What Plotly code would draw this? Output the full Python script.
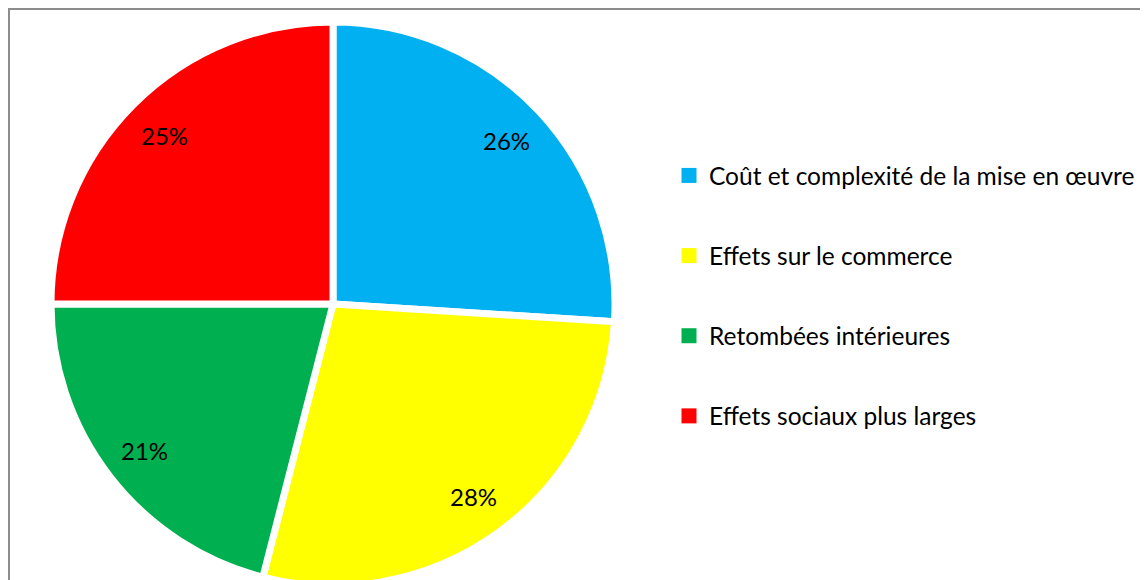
import math
import plotly.graph_objects as go

categories = ["Coût et complexité de la mise en œuvre", "Effets sur le commerce",
              "Retombées intérieures", "Effets sociaux plus larges"]
values = [26, 28, 21, 25]
colors = ["#00B0F0", "#FFFF00", "#00B050", "#FF0000"]

W, H = 1148, 580
FONT = "Lato"

# pie geometry (pixels in figure coordinates, y from top)
CX, CY, R = 325, 296, 282
dom_x = [(CX - R) / W, (CX + R) / W]
dom_y = [max(0, (H - CY - R) / H), (H - CY + R) / H]

fig = go.Figure()
fig.add_trace(go.Pie(
    labels=categories, values=values, sort=False, direction="clockwise", rotation=0,
    marker=dict(colors=colors, line=dict(color="white", width=7)),
    textinfo="none",
    domain=dict(x=dom_x, y=[(H - CY - R) / H, (H - CY + R) / H]),
    showlegend=False, hoverinfo="label+percent",
))
for i, (c, col) in enumerate(zip(categories, colors)):
    fig.add_trace(go.Scatter(
        x=[None], y=[None], mode="markers", name=c, legendgroup=f"g{i}",
        marker=dict(symbol="square", size=15, color=col), showlegend=True,
    ))

# percentage labels placed along each slice's mid-angle, derived from the data
total = sum(values)
annotations = []
cum = 0
for v in values:
    mid = (cum + v / 2) / total * 2 * math.pi
    cum += v
    px = CX + 0.845 * R * math.sin(mid)
    py = CY - 0.845 * R * math.cos(mid)
    annotations.append(dict(
        x=px / W, y=1 - py / H, xref="paper", yref="paper", showarrow=False,
        text=f"{round(v / total * 100)}%", font=dict(family=FONT, size=24, color="black"),
        xanchor="center", yanchor="middle"))

fig.update_layout(
    width=W, height=H, margin=dict(l=0, r=0, t=0, b=0),
    paper_bgcolor="white", plot_bgcolor="white",
    xaxis=dict(visible=False), yaxis=dict(visible=False),
    annotations=annotations,
    legend=dict(x=661 / W, y=1 - 145 / H, xanchor="left", yanchor="top",
                font=dict(family=FONT, size=24.5, color="black"),
                tracegroupgap=45.3, itemwidth=30, bgcolor="rgba(0,0,0,0)"),
    shapes=[dict(type="rect", xref="paper", yref="paper",
                 x0=1 / W, x1=1.05, y0=-0.05, y1=1 - 1 / H,
                 line=dict(color="#8C8C8C", width=2), fillcolor="rgba(0,0,0,0)", layer="below")],
)
fig.write_html("out.html")
